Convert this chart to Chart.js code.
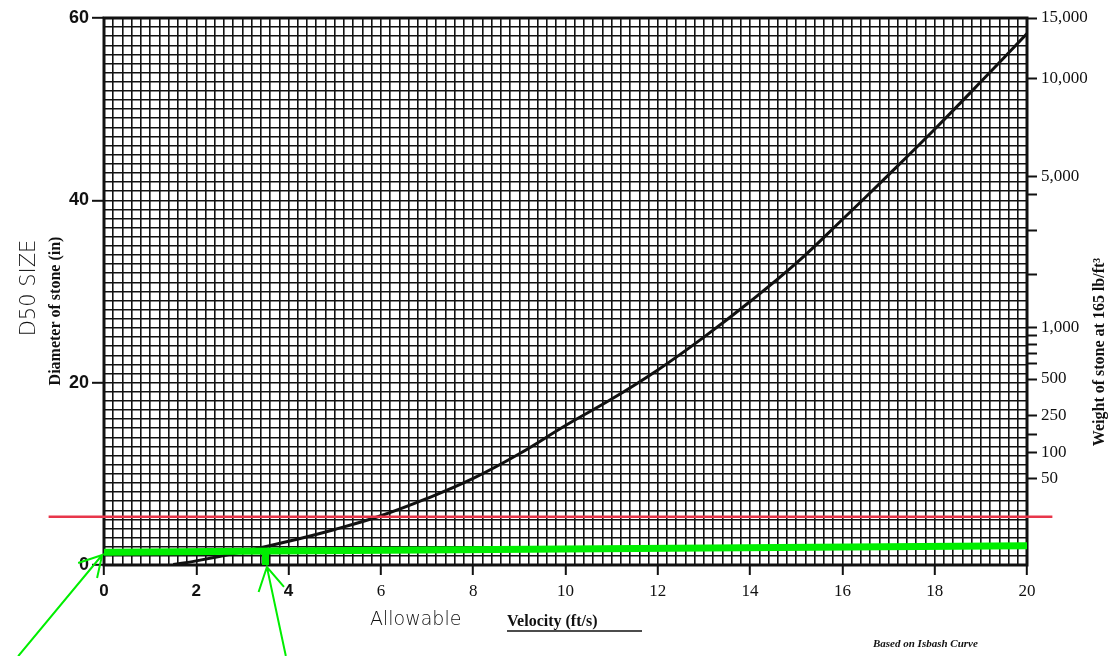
<!DOCTYPE html>
<html>
<head>
<meta charset="utf-8">
<script src="https://cdn.jsdelivr.net/npm/chart.js@4/dist/chart.umd.min.js"></script>
<style>
  html, body { margin: 0; padding: 0; background: #fff; }
  #wrap { width: 1112px; height: 656px; position: relative; }
</style>
</head>
<body>
<div id="wrap"><canvas id="chart"></canvas></div>
<script>
// Isbash curve (velocity ft/s -> D50 diameter in)
const velocity = [1.5, 2, 3, 4, 5, 6, 7, 8, 9, 10, 11, 12, 13, 14, 15, 16, 17, 18, 19, 20];
const diameter = [0.05, 0.45, 1.45, 2.6, 3.9, 5.4, 7.3, 9.5, 12.2, 15.3, 18.2, 21.4, 25.0, 28.9, 33.1, 37.9, 42.8, 47.8, 53.0, 58.3];

// hand-drawn markings
const redVel = [-1.2, 20.55];
const redDia = [5.3, 5.3];
const greenVel = [0, 20];
const greenDia = [1.4, 2.1];
const markVel = [3.5, 3.5];
const markDia = [1.45, 0];
const arrow1Vel = [-1.86, -0.04, -0.56, -0.04, -0.15];
const arrow1Dia = [-10, 1.1, 0.22, 1.1, -1.43];
const arrow2Vel = [3.94, 3.53, 3.35, 3.53, 3.9];
const arrow2Dia = [-9.98, -0.22, -2.96, -0.22, -2.41];

// axis ticks
const diaLabels = [0, 20, 40, 60];
const weightPos = [60, 53.4, 42.6, 40.6, 36.7, 31.9, 26.0, 25.2, 24.2, 23.2, 22.1, 20.4, 16.4, 14.3, 12.3, 9.5];
const weightLabels = ['15,000', '10,000', '5,000', '', '', '', '1,000', '', '', '', '', '500', '250', '', '100', '50'];

const pts = (xs, ys) => xs.map((x, i) => ({ x: x, y: ys[i] }));
const isEven = v => Math.abs(v - Math.round(v)) < 1e-6 && Math.round(v) % 2 === 0;
const isLabelledDia = v => diaLabels.some(d => Math.abs(d - v) < 1e-6);

const GREEN = '#00ee00';
const INK = '#111';

// frame round the plot + all the loose texts
const paperPlugin = {
    id: 'paper',
    beforeDatasetsDraw(chart) {
        const { ctx, chartArea: a } = chart;
        ctx.save();
        ctx.strokeStyle = INK;
        ctx.lineWidth = 3;
        ctx.strokeRect(a.left, a.top, a.right - a.left, a.bottom - a.top);
        ctx.restore();
    },
    afterDraw(chart) {
        const ctx = chart.ctx;
        ctx.save();
        ctx.fillStyle = INK;
        ctx.textAlign = 'center';
        ctx.textBaseline = 'middle';

        // left titles
        ctx.save();
        ctx.translate(30, 288);
        ctx.rotate(-Math.PI / 2);
        ctx.font = '300 21px "DejaVu Sans"';
        ctx.fillText('D50 SIZE', 0, 0);
        ctx.restore();

        ctx.save();
        ctx.translate(56, 311);
        ctx.rotate(-Math.PI / 2);
        ctx.font = 'bold 16px "Liberation Serif"';
        ctx.fillText('Diameter of stone (in)', 0, 0);
        ctx.restore();

        // right title
        ctx.save();
        ctx.translate(1100, 352);
        ctx.rotate(-Math.PI / 2);
        ctx.font = 'bold 16px "Liberation Serif"';
        ctx.fillText('Weight of stone at 165 lb/ft\u00B3', 0, 0);
        ctx.restore();

        // bottom title
        ctx.textAlign = 'left';
        ctx.font = '300 19px "DejaVu Sans"';
        ctx.fillText('Allowable', 370, 620);
        ctx.font = 'bold 16px "Liberation Serif"';
        ctx.fillText('Velocity (ft/s)', 507, 622);
        ctx.lineWidth = 1.5;
        ctx.strokeStyle = INK;
        ctx.beginPath();
        ctx.moveTo(507, 631);
        ctx.lineTo(642, 631);
        ctx.stroke();

        ctx.font = 'italic bold 11px "Liberation Serif"';
        ctx.fillText('Based on Isbash Curve', 873, 644);
        ctx.restore();
    }
};

new Chart(document.getElementById('chart'), {
    type: 'line',
    data: {
        datasets: [
            { data: pts(greenVel, greenDia), borderColor: GREEN, borderWidth: 7, borderCapStyle: 'butt' },
            { data: pts(markVel, markDia), borderColor: GREEN, borderWidth: 7, borderCapStyle: 'butt' },
            { data: pts(arrow1Vel, arrow1Dia), borderColor: GREEN, borderWidth: 2, clip: false },
            { data: pts(arrow2Vel, arrow2Dia), borderColor: GREEN, borderWidth: 2, clip: false },
            { data: pts(redVel, redDia), borderColor: '#e8364a', borderWidth: 2.5, clip: false },
            { data: pts(velocity, diameter), borderColor: INK, borderWidth: 3, tension: 0.4 }
        ]
    },
    options: {
        responsive: true,
        maintainAspectRatio: false,
        animation: false,
        layout: { padding: { top: 18, left: 0, right: 0, bottom: 0 } },
        elements: { point: { radius: 0 }, line: { fill: false } },
        plugins: { legend: { display: false }, tooltip: { enabled: false } },
        scales: {
            x: {
                type: 'linear',
                min: 0, max: 20,
                afterFit: s => { s.height = 91; },
                border: { display: false },
                grid: {
                    color: INK, lineWidth: 1.6,
                    tickLength: 10, tickWidth: 2,
                    tickColor: c => isEven(c.tick.value) ? INK : 'rgba(0,0,0,0)'
                },
                ticks: {
                    stepSize: 0.2, autoSkip: false, maxRotation: 0, padding: 6, color: INK,
                    font: c => c.tick && c.tick.value <= 4.01
                        ? { family: 'Liberation Sans', size: 17, weight: 'bold' }
                        : { family: 'Liberation Serif', size: 17 },
                    callback: v => isEven(v) ? String(Math.round(v)) : ''
                }
            },
            y: {
                type: 'linear',
                position: 'left',
                min: 0, max: 60,
                afterFit: s => { s.width = 104; },
                border: { display: false },
                grid: {
                    color: INK, lineWidth: 1.6,
                    tickLength: 12, tickWidth: 2,
                    tickColor: c => isLabelledDia(c.tick.value) ? INK : 'rgba(0,0,0,0)'
                },
                ticks: {
                    stepSize: 1, autoSkip: false, padding: 3, color: INK,
                    font: { family: 'Liberation Sans', size: 18, weight: 'bold' },
                    callback: v => isLabelledDia(v) ? String(Math.round(v)) : ''
                }
            },
            weight: {
                type: 'linear',
                position: 'right',
                min: 0, max: 60,
                afterFit: s => { s.width = 85; },
                afterBuildTicks: s => { s.ticks = weightPos.map(v => ({ value: v })); },
                border: { display: false },
                grid: { drawOnChartArea: false, tickLength: 10, tickWidth: 2, tickColor: INK },
                ticks: {
                    autoSkip: false, padding: 4, color: INK,
                    font: { family: 'Liberation Serif', size: 17 },
                    callback: (v, i) => weightLabels[i]
                }
            }
        }
    },
    plugins: [paperPlugin]
});
</script>
</body>
</html>
